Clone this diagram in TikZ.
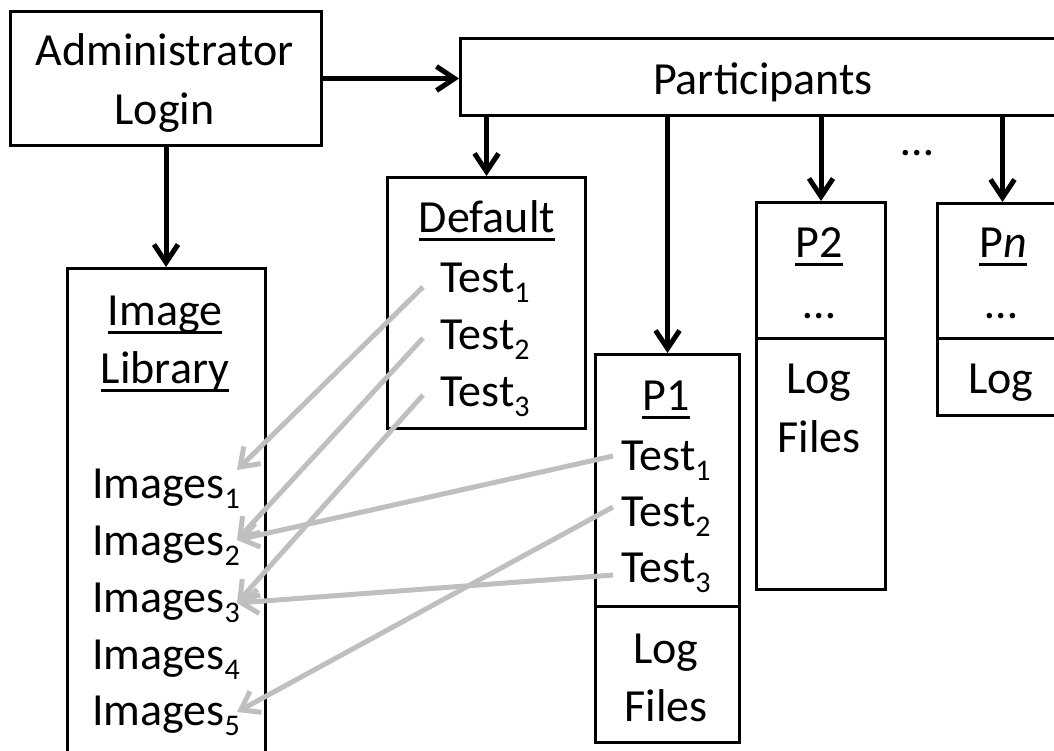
\documentclass[tikz,border=0pt]{standalone}
\usepackage{fontspec}
\setmainfont{Carlito}
\usetikzlibrary{arrows.meta}
\definecolor{arrowgray}{RGB}{191,191,191}
\newcommand\ulx[1]{\setbox0\hbox{#1}\rlap{\rule[-8.5pt]{\wd0}{3pt}}\box0}
\newcommand\sbx[1]{\raisebox{-10pt}{\fontsize{30}{30}\selectfont #1}}
\begin{document}
\begin{tikzpicture}[x=1pt,y=-1pt,
  box/.style={draw, line width=3pt, inner sep=0pt, anchor=north west},
  txt/.style={inner sep=0pt, anchor=base, font=\fontsize{46}{56}\selectfont},
  blk/.style={line width=5pt, -{Straight Barb[length=18pt,width=24pt]}},
  gry/.style={draw=arrowgray, line width=5pt, -{Straight Barb[length=17pt,width=24pt]}}]
\useasboundingbox (0,0) rectangle (1054,751);
% boxes
\node[box, minimum width=311pt, minimum height=134pt] (admin) at (9,10) {};
\node[box, minimum width=620pt, minimum height=77pt] (part) at (459,37) {};
\node[box, minimum width=198pt, minimum height=251pt] (def) at (386,176) {};
\node[box, minimum width=198pt, minimum height=500pt] (lib) at (66,267) {};
\node[box, minimum width=144pt, minimum height=252pt] (p1top) at (594,353) {};
\node[box, minimum width=144pt, minimum height=136pt] (p1bot) at (594,605) {};
\node[box, minimum width=129pt, minimum height=136pt] (p2top) at (755,201) {};
\node[box, minimum width=129pt, minimum height=251pt] (p2bot) at (755,337) {};
\node[box, minimum width=130pt, minimum height=135pt] (pntop) at (936,202) {};
\node[box, minimum width=130pt, minimum height=77pt] (pnbot) at (936,337) {};
% texts
\node[txt] (t-adm1) at (164.5,66) {Administrator};
\node[txt] (t-adm2) at (164.5,125) {Login};
\node[txt] (t-part) at (763,95) {Participants};
\node[txt] (t-dots) at (917,156) {…};
\node[txt] (t-def) at (487,233) {\ulx{Default}};
\node[txt] (t-d1) at (485,292) {Test\sbx{1}};
\node[txt] (t-d2) at (485,349) {Test\sbx{2}};
\node[txt] (t-d3) at (485,406) {Test\sbx{3}};
\node[txt] (t-lib1) at (165,325) {\ulx{Image}};
\node[txt] (t-lib2) at (165,383) {\ulx{Library}};
\node[txt] (t-im1) at (166,498) {Images\sbx{1}};
\node[txt] (t-im2) at (166,555) {Images\sbx{2}};
\node[txt] (t-im3) at (166,612) {Images\sbx{3}};
\node[txt] (t-im4) at (166,669) {Images\sbx{4}};
\node[txt] (t-im5) at (166,725) {Images\sbx{5}};
\node[txt] (t-p1) at (666,410) {\ulx{P1}};
\node[txt] (t-p1a) at (666,470) {Test\sbx{1}};
\node[txt] (t-p1b) at (666,526) {Test\sbx{2}};
\node[txt] (t-p1c) at (666,582) {Test\sbx{3}};
\node[txt] (t-p1l) at (666,663) {Log};
\node[txt] (t-p1f) at (666,721) {Files};
\node[txt] (t-p2) at (819,258) {\ulx{P2}};
\node[txt] (t-p2d) at (819,318) {…};
\node[txt] (t-p2l) at (819,393) {Log};
\node[txt] (t-p2f) at (819,452) {Files};
\node[txt] (t-pn) at (1003,258) {\ulx{P\textit{n}}};
\node[txt] (t-pnd) at (1001,318) {…};
\node[txt] (t-pnl) at (1001,393) {Log};
% black connectors
\draw[blk] (admin.east) -- (part.west |- admin.east);
\draw[blk] (admin.south) -- (admin.south |- lib.north);
\draw[blk] (part.south -| def.north) -- (def.north);
\draw[blk] (part.south -| p1top.north) -- (p1top.north);
\draw[blk] (part.south -| p2top.north) -- (p2top.north);
\draw[blk] (part.south -| pntop.north) -- (pntop.north);
% gray connector ends
\coordinate (sD1) at (423,287);
\coordinate (sD2) at (423,338);
\coordinate (sD3) at (423,395);
\coordinate (sP1) at (613,456);
\coordinate (sP2) at (613,507);
\coordinate (sP3) at (613,575);
\coordinate (eI1) at (237,470);
\coordinate (eI2) at (237,540);
\coordinate (eI3) at (237,603);
\coordinate (eI5) at (237,712);
\draw[gry] (sD1) -- (eI1);
\draw[gry] (sD2) -- (eI2);
\draw[gry] (sD3) -- (eI3);
\draw[gry] (sP1) -- (eI2);
\draw[gry] (sP2) -- (eI5);
\draw[gry] (sP3) -- (eI3);
\end{tikzpicture}
\end{document}
